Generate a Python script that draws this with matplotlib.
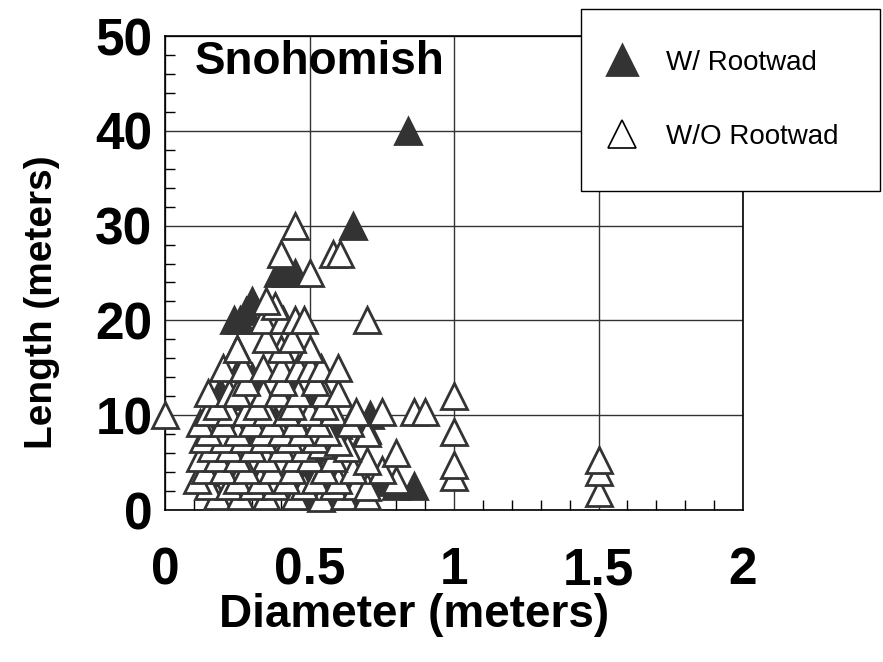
import matplotlib.pyplot as plt
from matplotlib.ticker import MultipleLocator

plt.rcParams["font.family"] = ["Liberation Sans", "DejaVu Sans"]

# Snohomish large woody debris: logs with an attached rootwad
rootwad_diam = [0.84, 0.65, 0.39, 0.42, 0.45, 0.30, 0.28, 0.24, 0.26, 0.25,
                0.26, 0.30, 0.19, 0.25, 0.50, 0.30, 0.43, 0.71, 0.60, 0.27,
                0.70, 0.36, 0.47, 0.50, 0.55, 0.48, 0.66, 0.74, 0.86, 0.80,
                0.55, 0.63, 0.48, 0.22, 0.33, 0.38, 0.52, 0.24, 0.44]
rootwad_len = [40, 30, 25, 25, 25, 22, 21, 20, 20, 17,
               15, 14, 12.5, 12, 12.3, 10, 10, 10, 9, 8,
               8.4, 7, 7, 5, 5, 3, 3, 3, 2.5, 2.5,
               2, 2, 1.5, 6, 4, 9.5, 11, 9, 13]

# logs without a rootwad
no_rootwad_diam = [
    0.00,
    0.18, 0.26, 0.35, 0.45, 0.54, 0.62, 0.70, 1.50,
    0.15, 0.22, 0.30, 0.38, 0.48, 0.58, 0.66, 0.70,
    0.11, 0.25, 0.33, 0.42, 0.52, 0.60, 0.80, 1.00,
    0.14, 0.20, 0.28, 0.37, 0.44, 0.55, 0.65, 0.75, 1.50,
    0.12, 0.18, 0.25, 0.35, 0.45, 0.50, 0.58, 0.70, 1.00, 1.50,
    0.16, 0.22, 0.30, 0.40, 0.48, 0.54, 0.63, 0.80,
    0.13, 0.20, 0.27, 0.34, 0.43, 0.52, 0.60,
    0.15, 0.25, 0.34, 0.40, 0.47, 0.56, 0.70, 1.00,
    0.12, 0.20, 0.30, 0.37, 0.45, 0.53, 0.64,
    0.15, 0.22, 0.28, 0.35, 0.42, 0.50, 0.58, 0.66, 0.75, 0.86, 0.90,
    0.18, 0.32, 0.44, 0.55,
    0.15, 0.22, 0.25, 0.34, 0.39, 0.46, 0.55, 0.60, 1.00,
    0.28, 0.41, 0.52,
    0.20, 0.27, 0.34, 0.40, 0.46, 0.50, 0.54, 0.60,
    0.25, 0.40, 0.50,
    0.35, 0.44,
    0.34, 0.41, 0.45, 0.48, 0.70,
    0.38, 0.35, 0.50,
    0.40, 0.58, 0.605,
    0.45,
]
no_rootwad_len = [
    10,
    1.5, 1.5, 1.5, 1.5, 1.3, 1.5, 1.5, 1.8,
    2.5, 2.5, 2.5, 2.5, 2.5, 2.5, 2.5, 2.4,
    3.2, 3.2, 3.2, 3.2, 3.2, 3.2, 3.2, 3.5,
    4.2, 4.2, 4.2, 4.2, 4.2, 4.2, 4.2, 4.2, 4.0,
    5.5, 5.5, 5.5, 5.5, 5.5, 5.5, 5.5, 5.2, 4.7, 5.3,
    6.5, 6.5, 6.5, 6.5, 6.5, 6.9, 6.5, 6.0,
    7.5, 7.5, 7.5, 7.5, 7.5, 7.5, 7.2,
    8.2, 8.2, 8.2, 8.2, 8.2, 8.2, 8.1, 8.2,
    9.2, 9.2, 9.2, 9.2, 9.2, 9.2, 9.2,
    10.3, 10.3, 10.3, 10.3, 10.3, 10.3, 10.3, 10.3, 10.3, 10.3, 10.3,
    11, 11, 11, 11,
    12.3, 12.3, 12.3, 12.3, 12.3, 12.3, 12.3, 12.3, 12,
    13.5, 13.5, 13.5,
    15, 15, 15, 15, 15, 15, 15, 15,
    17, 17, 17,
    18, 18,
    20, 20, 20, 20, 20,
    21.5, 22, 25,
    27, 27, 27,
    30,
]

x_ticks = [0, 0.5, 1, 1.5, 2]
x_labels = ["0", "0.5", "1", "1.5", "2"]
y_ticks = [0, 10, 20, 30, 40, 50]

W, H = 883, 662
fig = plt.figure(figsize=(W / 100, H / 100), dpi=100)
ax = fig.add_axes([165 / W, 1 - 510 / H, 578 / W, 474 / H])

dark = "#333333"
ax.plot(rootwad_diam, rootwad_len, "^", ms=18.5, color=dark, mec=dark, mew=2,
        label="W/ Rootwad", clip_on=False, zorder=3)
ax.plot(no_rootwad_diam, no_rootwad_len, "^", ms=18.5, mfc="white", mec=dark,
        mew=2, label="W/O Rootwad", clip_on=False, zorder=3)

ax.set_xlim(0, 2)
ax.set_ylim(0, 50)
ax.set_xticks(x_ticks)
ax.set_xticklabels(x_labels)
ax.set_yticks(y_ticks)
ax.xaxis.set_minor_locator(MultipleLocator(0.1))
ax.yaxis.set_minor_locator(MultipleLocator(2))
ax.tick_params(which="both", direction="in", top=False, right=False)
ax.tick_params(which="major", length=0, labelsize=37)
ax.tick_params(axis="x", which="major", pad=26)
ax.tick_params(axis="y", which="major", pad=9)
ax.tick_params(which="minor", length=7, width=1, color="black")
for lbl in ax.get_xticklabels() + ax.get_yticklabels():
    lbl.set_fontweight("bold")
for sp in ax.spines.values():
    sp.set_linewidth(1.2)

ax.grid(True, which="major", color=dark, linewidth=1)
ax.set_axisbelow(True)

ax.text(0.052, 0.945, "Snohomish", transform=ax.transAxes, fontsize=33,
        fontweight="bold", va="center", ha="left")

fig.text(414 / W, 1 - 615 / H, "Diameter (meters)", fontsize=33,
         fontweight="bold", ha="center", va="center")
fig.text(42 / W, 1 - 302 / H, "Length (meters)", fontsize=28,
         fontweight="bold", ha="center", va="center", rotation=90)

leg = fig.legend(loc="upper left", bbox_to_anchor=(581 / W, 1 - 189 / H, 299 / W, 180 / H),
                 mode="expand", borderaxespad=0, fancybox=False, framealpha=1,
                 edgecolor="black", fontsize=20, handlelength=0,
                 handletextpad=1.6, labelspacing=1.73, borderpad=1.47)
leg.get_frame().set_linewidth(1)
h_fill, h_open = leg.legend_handles
h_fill.set_markersize(21)
h_open.set_markersize(20)
h_open.set_markeredgewidth(1.2)
h_open.set_markeredgecolor("black")

fig.savefig("out.png", dpi=100)
